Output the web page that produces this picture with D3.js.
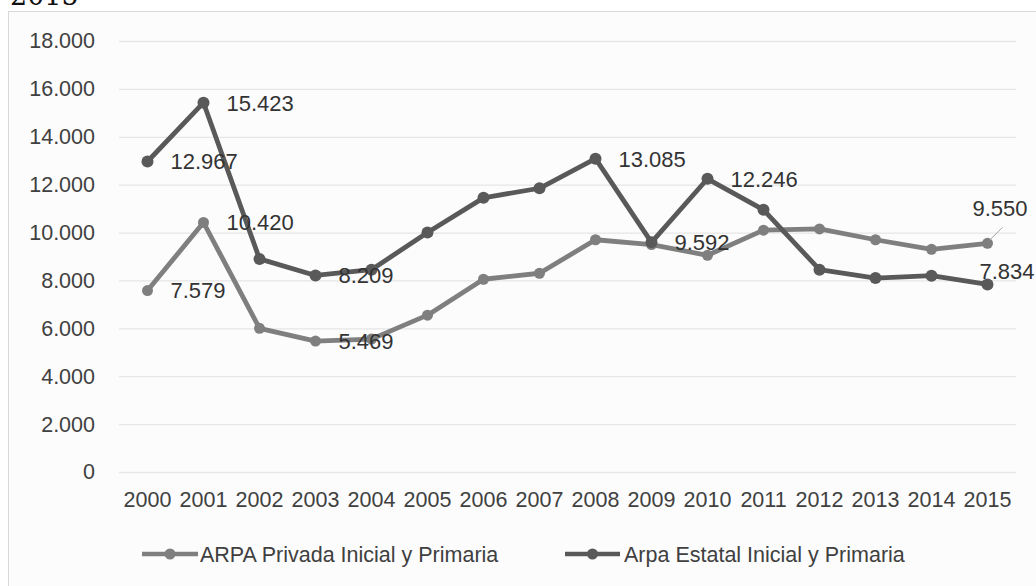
<!DOCTYPE html>
<html>
<head>
<meta charset="utf-8">
<script src="https://cdn.jsdelivr.net/npm/d3@7"></script>
<style>
  html, body { margin: 0; padding: 0; background: #ffffff; }
  svg { display: block; }
  text { font-family: "Liberation Sans", Arial, sans-serif; }
</style>
</head>
<body>
<svg id="chart" width="1036" height="586"></svg>
<script>
// Años de la serie
const years = ["2000","2001","2002","2003","2004","2005","2006","2007",
               "2008","2009","2010","2011","2012","2013","2014","2015"];

// ARPA privada, nivel inicial y primaria
const privada = [7579, 10420, 6000, 5469, 5550, 6550, 8050, 8300,
                 9700, 9500, 9050, 10100, 10150, 9700, 9300, 9550];

// ARPA estatal, nivel inicial y primaria
const estatal = [12967, 15423, 8900, 8209, 8450, 10000, 11450, 11850,
                 13085, 9592, 12246, 10950, 8450, 8100, 8200, 7834];

// Marcas del eje vertical
const yTicks = [0, 2000, 4000, 6000, 8000, 10000, 12000, 14000, 16000, 18000];

// Años que llevan etiqueta de valor en cada serie
const privadaLabeled = ["2000", "2001", "2003", "2015"];
const estatalLabeled = ["2000", "2001", "2003", "2008", "2009", "2010", "2015"];

const seriesNames = ["ARPA Privada Inicial y Primaria", "Arpa Estatal Inicial y Primaria"];

const svg = d3.select("#chart");

const fmt = d3.formatLocale({ decimal: ",", thousands: ".", grouping: [3], currency: ["$", ""] }).format(",d");

// Título parcialmente visible en el borde superior
svg.append("text")
  .attr("x", 10).attr("y", 5)
  .attr("font-size", 27)
  .attr("fill", "#111")
  .style("font-family", "'DejaVu Serif', serif")
  .text("2015");

// Marco del gráfico
svg.append("rect")
  .attr("x", 8.5).attr("y", 11.5)
  .attr("width", 1100).attr("height", 700)
  .attr("fill", "#fcfcfc")
  .attr("stroke", "#d9d9d9")
  .attr("stroke-width", 1);

const x = d3.scaleBand().domain(years).range([119.5, 1015.5]).padding(0);
const xc = d => x(d) + x.bandwidth() / 2;
const y = d3.scaleLinear().domain([0, 18000]).range([472, 41]);

// Eje vertical con líneas de cuadrícula
const yAxis = svg.append("g")
  .attr("transform", "translate(119,0)")
  .call(d3.axisLeft(y).tickValues(yTicks).tickFormat(fmt).tickSize(-(1016 - 119)).tickPadding(24));
yAxis.select(".domain").remove();
yAxis.selectAll(".tick line").attr("stroke", "#e6e6e6").attr("stroke-width", 1.3);
yAxis.selectAll(".tick text")
  .attr("fill", "#404040")
  .attr("font-size", 21.5)
  .attr("font-family", "'Liberation Sans', Arial, sans-serif");

// Eje horizontal (solo etiquetas)
const xAxis = svg.append("g")
  .attr("transform", "translate(0,472)")
  .call(d3.axisBottom(x).tickSize(0).tickPadding(20));
xAxis.select(".domain").remove();
xAxis.selectAll(".tick text")
  .attr("fill", "#404040")
  .attr("font-size", 21.5)
  .attr("font-family", "'Liberation Sans', Arial, sans-serif");

const series = [
  { name: seriesNames[0], values: privada, color: "#7f7f7f", r: 5.5, labeled: privadaLabeled },
  { name: seriesNames[1], values: estatal, color: "#595959", r: 6, labeled: estatalLabeled }
];

const line = d3.line().x((d, i) => xc(years[i])).y(d => y(d));

series.forEach(s => {
  svg.append("path")
    .datum(s.values)
    .attr("fill", "none")
    .attr("stroke", s.color)
    .attr("stroke-width", 4.8)
    .attr("stroke-linejoin", "round")
    .attr("d", line);
  svg.append("g").selectAll("circle")
    .data(s.values)
    .join("circle")
    .attr("cx", (d, i) => xc(years[i]))
    .attr("cy", d => y(d))
    .attr("r", s.r)
    .attr("fill", s.color);
});

// Etiquetas de valor
const labelGroup = svg.append("g")
  .attr("font-size", 22)
  .attr("fill", "#333333");

function addLabels(s, special) {
  s.labeled.forEach(yr => {
    const i = years.indexOf(yr);
    const v = s.values[i];
    const px = xc(yr), py = y(v);
    let lx = px + 23, ly = py;
    if (special[yr]) { lx = px + special[yr][0]; ly = py + special[yr][1]; }
    labelGroup.append("text")
      .attr("x", lx).attr("y", ly)
      .attr("dy", "0.36em")
      .text(fmt(v));
  });
}
addLabels(series[0], { "2015": [-15, -35] });
addLabels(series[1], { "2015": [-8, -13] });

// Línea guía de la etiqueta desplazada
svg.append("line")
  .attr("x1", xc("2015") + 2).attr("y1", y(privada[15]) - 3)
  .attr("x2", xc("2015") + 15).attr("y2", y(privada[15]) - 16)
  .attr("stroke", "#a6a6a6").attr("stroke-width", 1);

// Leyenda
const legendItems = [
  { name: seriesNames[0], color: "#7f7f7f", x0: 142, x1: 198, tx: 200 },
  { name: seriesNames[1], color: "#595959", x0: 565, x1: 620, tx: 624 }
];
const legY = 554;
legendItems.forEach(l => {
  svg.append("line")
    .attr("x1", l.x0).attr("x2", l.x1)
    .attr("y1", legY).attr("y2", legY)
    .attr("stroke", l.color).attr("stroke-width", 4.5);
  svg.append("circle")
    .attr("cx", (l.x0 + l.x1) / 2).attr("cy", legY)
    .attr("r", 5.5).attr("fill", l.color);
  svg.append("text")
    .attr("x", l.tx).attr("y", legY)
    .attr("dy", "0.36em")
    .attr("font-size", 21.5)
    .attr("fill", "#404040")
    .text(l.name);
});
</script>
</body>
</html>
